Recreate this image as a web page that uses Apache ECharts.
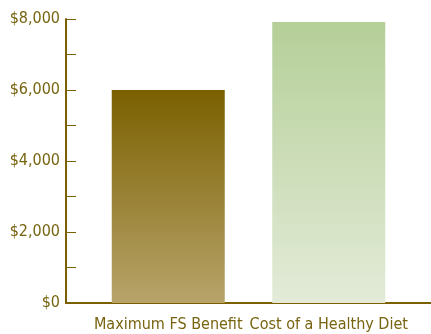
<!DOCTYPE html>
<html>
<head>
<meta charset="utf-8">
<script src="https://cdn.jsdelivr.net/npm/echarts@6/dist/echarts.min.js"></script>
<style>
  html, body { margin: 0; padding: 0; background: #fff; }
  #chart { width: 431px; height: 334px; }
</style>
</head>
<body>
<div id="chart"></div>
<script>
// data
var categories = ['Maximum FS Benefit', 'Cost of a Healthy Diet'];
var values = [6000, 7915];
var yMin = 0, yMax = 8000, yStep = 1000;

var olive = '#7a6000';
var textColor = '#776410';
var font = '"DejaVu Sans Condensed", "Liberation Sans", sans-serif';

// gradients per bar, top -> bottom
var barColors = [
    new echarts.graphic.LinearGradient(0, 0, 0, 1, [
        {offset: 0, color: '#7a6000'},
        {offset: 1, color: '#b8a46b'}
    ]),
    new echarts.graphic.LinearGradient(0, 0, 0, 1, [
        {offset: 0, color: '#b5cf98'},
        {offset: 1, color: '#e3ebd8'}
    ])
];

var chart = echarts.init(document.getElementById('chart'));
chart.setOption({
    animation: false,
    grid: [
        // frame: y axis + baseline
        {left: 66, right: 0, top: 19, bottom: 31},
        // bars
        {left: 88, right: 22, top: 19, bottom: 31}
    ],
    xAxis: [
        {
            gridIndex: 0,
            type: 'category',
            data: categories,
            axisLine: {lineStyle: {color: olive, width: 2}},
            axisTick: {show: false},
            axisLabel: {show: false}
        },
        {
            gridIndex: 1,
            type: 'category',
            data: categories,
            axisLine: {show: false},
            axisTick: {show: false},
            axisLabel: {
                interval: 0,
                color: textColor,
                fontFamily: font,
                fontSize: 16,
                margin: 14
            }
        }
    ],
    yAxis: [
        {
            gridIndex: 0,
            type: 'value',
            min: yMin,
            max: yMax,
            interval: yStep,
            axisLine: {show: true, lineStyle: {color: olive, width: 2}},
            axisTick: {show: true, inside: true, length: 10, lineStyle: {color: olive, width: 1}},
            splitLine: {show: false},
            axisLabel: {
                color: textColor,
                fontFamily: font,
                fontSize: 16,
                margin: 6,
                formatter: function (v) {
                    if (v % 2000 !== 0) return '';
                    return '$' + v.toLocaleString('en-US');
                }
            }
        },
        {
            gridIndex: 1,
            type: 'value',
            min: yMin,
            max: yMax,
            interval: yStep,
            show: false
        }
    ],
    series: [{
        type: 'bar',
        xAxisIndex: 1,
        yAxisIndex: 1,
        barWidth: 113,
        data: values.map(function (v, i) {
            return {value: v, itemStyle: {color: barColors[i]}};
        })
    }]
});
</script>
</body>
</html>
